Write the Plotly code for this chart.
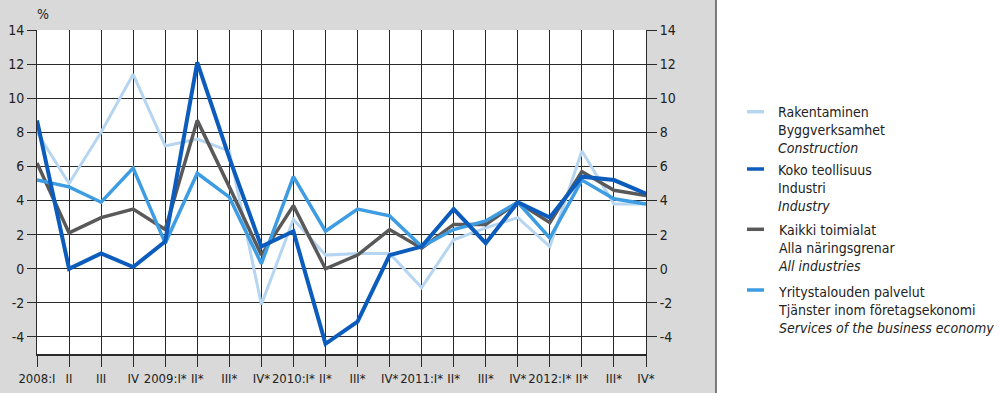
import plotly.graph_objects as go

# ---- data ----
quarters = ["2008:I", "II", "III", "IV", "2009:I*", "II*", "III*", "IV*",
            "2010:I*", "II*", "III*", "IV*", "2011:I*", "II*", "III*", "IV*",
            "2012:I*", "II*", "III*", "IV*"]
construction = [8.0, 5.0, 8.0, 11.4, 7.2, 7.6, 6.9, -2.1, 2.9, 0.8,
                0.9, 0.9, -1.1, 1.7, 2.4, 3.0, 1.3, 6.9, 3.8, 3.8]
industry = [8.7, 0.0, 0.9, 0.1, 1.6, 12.1, 6.5, 1.3, 2.2, -4.4,
            -3.1, 0.8, 1.3, 3.5, 1.5, 3.9, 3.0, 5.4, 5.2, 4.4]
all_industries = [6.2, 2.1, 3.0, 3.5, 2.3, 8.7, 4.8, 0.8, 3.7, 0.0,
                  0.8, 2.3, 1.2, 2.6, 2.6, 3.9, 2.7, 5.7, 4.6, 4.3]
services = [5.2, 4.8, 3.9, 5.9, 1.5, 5.6, 4.2, 0.3, 5.4, 2.2,
            3.5, 3.1, 1.3, 2.3, 2.8, 3.9, 1.8, 5.2, 4.1, 3.8]
y_ticks = [-4, -2, 0, 2, 4, 6, 8, 10, 12, 14]
y_tick_labels = ["-4", "-2", "0", "2", "4", "6", "8", "10", "12", "14"]

legend_lines = [
    ("Rakentaminen", "Byggverksamhet", "Construction"),
    ("Koko teollisuus", "Industri", "Industry"),
    ("Kaikki toimialat", "Alla näringsgrenar", "All industries"),
    ("Yritystalouden palvelut", "Tjänster inom företagsekonomi", "Services of the business economy"),
]

C_CONS = "#b6d5f0"
C_IND = "#0b5cbd"
C_ALL = "#595959"
C_SERV = "#3d9ce2"
colors = [C_CONS, C_IND, C_ALL, C_SERV]

FONT = "DejaVu Sans Condensed, DejaVu Sans, sans-serif"
TXT = "#222222"

x = list(range(len(quarters)))

fig = go.Figure()
fig.add_trace(go.Scatter(x=x, y=construction, mode="lines", line=dict(color=C_CONS, width=3), showlegend=False))
fig.add_trace(go.Scatter(x=x, y=all_industries, mode="lines", line=dict(color=C_ALL, width=3.5), showlegend=False))
fig.add_trace(go.Scatter(x=x, y=services, mode="lines", line=dict(color=C_SERV, width=3.5), showlegend=False))
fig.add_trace(go.Scatter(x=x, y=industry, mode="lines", line=dict(color=C_IND, width=4), showlegend=False))
fig.add_trace(go.Scatter(x=[None], y=[None], yaxis="y2", showlegend=False, hoverinfo="skip"))

# geometry (pixels)
L, R, T, B = 37, 646, 30, 354
W, H = 999, 393
pw, ph = R - L, B - T

def px_x(p):
    return (p - L) / pw

def px_y(p):
    return (B - p) / ph

fig.update_layout(
    width=W, height=H,
    margin=dict(l=L, r=W - R, t=T, b=H - B, autoexpand=False),
    paper_bgcolor="#d9d9d9",
    plot_bgcolor="#ffffff",
    font=dict(family=FONT, size=14, color=TXT),
    xaxis=dict(range=[0, len(quarters) - 1], tickmode="array", tickvals=x, ticktext=quarters,
               tickangle=0, automargin=False,
               showgrid=True, gridcolor="#2a2a2a", gridwidth=1,
               ticks="outside", ticklen=11, tickcolor="#2a2a2a", tickwidth=1,
               showline=True, linecolor="#2a2a2a", linewidth=2, mirror=False,
               zeroline=False, tickfont=dict(size=13, family=FONT, color=TXT)),
    yaxis=dict(range=[-5, 14], tickmode="array", tickvals=y_ticks, ticktext=y_tick_labels,
               automargin=False,
               showgrid=True, gridcolor="#2a2a2a", gridwidth=1,
               ticks="outside", ticklen=9, tickcolor="#2a2a2a", tickwidth=1,
               showline=True, linecolor="#2a2a2a", linewidth=1,
               zeroline=False, tickfont=dict(size=14, family=FONT, color=TXT)),
    yaxis2=dict(range=[-5, 14], tickmode="array", tickvals=y_ticks, ticktext=y_tick_labels,
                overlaying="y", side="right", automargin=False,
                showgrid=False, ticks="outside", ticklen=10, tickcolor="#2a2a2a", tickwidth=1,
                showline=True, linecolor="#2a2a2a", linewidth=1, zeroline=False,
                tickfont=dict(size=14, family=FONT, color=TXT)),
    showlegend=False,
)

shapes = [
    dict(type="rect", xref="paper", yref="paper", x0=px_x(716), x1=px_x(1005),
         y0=px_y(400), y1=px_y(-10), fillcolor="#ffffff", line=dict(width=0), layer="below"),
    dict(type="line", xref="paper", yref="paper", x0=px_x(716), x1=px_x(716),
         y0=px_y(400), y1=px_y(-10), line=dict(color="#555555", width=1.5)),
]

annotations = [
    dict(text="%", xref="paper", yref="paper", x=px_x(43), y=px_y(14), showarrow=False,
         xanchor="center", yanchor="middle", font=dict(size=14, family=FONT, color=TXT)),
]

sym_y = [111.7, 169, 229.3, 290]
text_mid = [130.0, 188.5, 248.0, 309.5]
for i, lines in enumerate(legend_lines):
    shapes.append(dict(type="line", xref="paper", yref="paper", x0=px_x(747), x1=px_x(764),
                       y0=px_y(sym_y[i]), y1=px_y(sym_y[i]), line=dict(color=colors[i], width=3.5)))
    txt = f"{lines[0]}<br>{lines[1]}<br><i>{lines[2]}</i>"
    annotations.append(dict(text=txt, xref="paper", yref="paper", x=px_x(777),
                            y=px_y(text_mid[i]), showarrow=False, align="left",
                            xanchor="left", yanchor="middle", borderpad=0,
                            font=dict(size=14, family=FONT, color=TXT)))

fig.update_layout(shapes=shapes, annotations=annotations)
fig.write_html("out.html", config={"displayModeBar": False},
               post_script="document.body.style.margin='0';document.body.style.overflow='hidden';")
